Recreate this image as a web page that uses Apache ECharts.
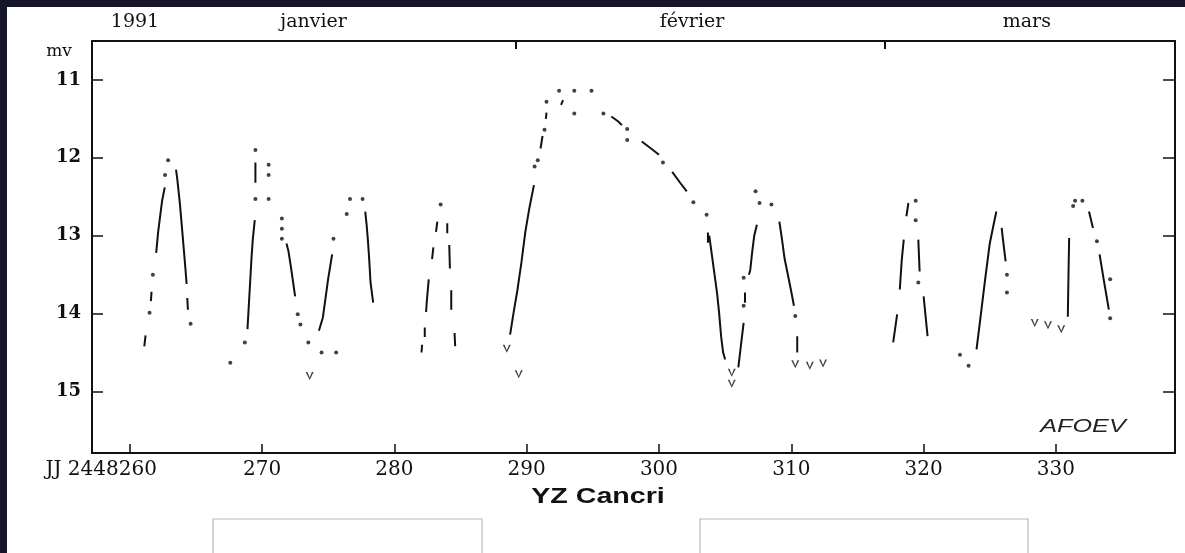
<!DOCTYPE html>
<html><head><meta charset="utf-8">
<script src="https://cdn.jsdelivr.net/npm/echarts@6/dist/echarts.min.js"></script>
<style>html,body{margin:0;padding:0;background:#15152b;}#c{width:1185px;height:553px;}</style>
</head><body><div id="c"></div>
<script>
// ---- data (JJ - 2448000, magnitude mv); null = gap between observation runs ----
const curveJD = [261.1,261.2,null, 261.6,261.65,null, 262.0,262.15,262.3,262.45,262.65,null,
 263.5,263.6,263.8,264.0,264.2,264.3,null, 264.35,264.4,null,
 268.9,269.0,269.1,269.2,269.3,269.45,null, 269.5,269.5,null,
 271.85,272.0,272.2,272.35,272.5,null, 274.3,274.6,274.8,275.0,275.3,null,
 277.8,277.9,278.0,278.1,278.2,278.4,null,
 282.05,282.1,null, 282.3,282.3,null, 282.4,282.45,282.6,null, 282.85,282.95,null, 283.15,283.25,null,
 284.0,284.0,null, 284.15,284.2,null, 284.3,284.3,null, 284.55,284.6,null,
 288.75,289.0,289.3,289.6,289.9,290.2,290.55,null, 291.05,291.2,null, 291.45,291.5,null, 292.6,292.75,null,
 296.4,296.9,297.2,null, 298.7,299.4,300.0,null, 301.0,301.6,302.1,null, 303.7,303.7,null,
 303.8,304.0,304.2,304.4,304.55,304.7,304.85,305.0,null, 306.0,306.2,306.4,null, 306.5,306.5,null,
 306.8,306.9,307.05,307.2,307.4,null, 309.1,309.3,309.5,309.8,310.0,310.2,null, 310.45,310.45,null,
 317.7,318.0,null, 318.2,318.35,318.5,null, 318.7,318.85,null, 319.6,319.7,null, 320.0,320.3,null,
 324.0,324.3,324.65,325.0,325.3,325.5,null, 325.9,326.0,326.2,null,
 330.9,330.95,331.0,null, 332.5,332.8,null, 333.3,333.6,334.0];
const curveMag = [14.42,14.28,null, 13.84,13.72,null, 13.22,12.95,12.75,12.55,12.38,null,
 12.15,12.28,12.6,13.0,13.4,13.62,null, 13.8,13.95,null,
 14.2,13.9,13.6,13.3,13.05,12.8,null, 12.32,12.06,null,
 13.1,13.2,13.42,13.6,13.78,null, 14.22,14.05,13.8,13.55,13.24,null,
 12.69,12.85,13.05,13.3,13.6,13.86,null,
 14.5,14.4,null, 14.3,14.18,null, 13.98,13.85,13.56,null, 13.3,13.15,null, 12.95,12.82,null,
 12.84,12.97,null, 13.12,13.42,null, 13.7,13.95,null, 14.25,14.42,null,
 14.27,14.0,13.7,13.35,12.95,12.65,12.35,null, 11.88,11.72,null, 11.5,11.42,null, 11.32,11.26,null,
 11.47,11.53,11.58,null, 11.79,11.88,11.96,null, 12.18,12.32,12.43,null, 12.96,13.09,null,
 13.0,13.25,13.5,13.75,14.0,14.3,14.5,14.59,null, 14.69,14.4,14.12,null, 13.73,13.86,null,
 13.5,13.44,13.2,13.0,12.86,null, 12.82,13.05,13.3,13.55,13.72,13.9,null, 14.29,14.5,null,
 14.37,14.01,null, 13.69,13.31,13.05,null, 12.75,12.58,null, 13.05,13.46,null, 13.78,14.29,null,
 14.46,14.05,13.56,13.1,12.85,12.69,null, 12.9,13.05,13.33,null,
 14.04,13.5,13.03,null, 12.69,12.9,null, 13.24,13.55,13.95];
const dotJD = [261.5,261.75,262.67,262.9,264.6, 267.6,268.7,269.5,270.5,270.5,269.5,270.5,271.5,271.5,271.5,
 272.7,272.9,273.5,275.4,274.5,275.6, 276.4,276.65,277.6, 283.5,
 290.6,290.84,291.35,291.5,292.45,293.6,294.9,293.6,295.8,297.6,297.6,300.3,302.6,303.6,
 306.4,306.4,307.3,307.6,308.5,310.3, 319.4,319.4,319.6, 322.75,323.4,326.3,326.3,
 331.3,331.45,332.0,333.1,334.1,334.1];
const dotMag = [13.99,13.5,12.22,12.03,14.13, 14.63,14.37,11.9,12.09,12.22,12.53,12.53,12.78,12.91,13.04,
 14.01,14.14,14.37,13.04,14.5,14.5, 12.72,12.53,12.53, 12.6,
 12.11,12.03,11.64,11.28,11.14,11.14,11.14,11.43,11.43,11.63,11.77,12.06,12.57,12.73,
 13.9,13.54,12.43,12.58,12.6,14.03, 12.55,12.8,13.6, 14.53,14.67,13.5,13.73,
 12.62,12.55,12.55,13.07,13.56,14.06];
// "fainter than" estimates (drawn as v)
const limitJD = [273.6,288.5,289.4,305.5,305.5,310.3,311.4,312.4,328.4,329.4,330.4];
const limitMag = [14.8,14.45,14.78,14.76,14.9,14.65,14.67,14.64,14.12,14.15,14.2];
// axes
const xTickValues = [260,270,280,290,300,310,320,330];
const yTickValues = [11,12,13,14,15];
const monthNames = ['1991','janvier','février','mars'];
const monthLabelDays = [260.4,273.9,302.5,327.8];
const monthBoundaryDays = [289.2,317.1];

const zip = (a,b)=>a.map((v,i)=> v===null ? ['-','-'] : [v,b[i]]);

const chart = echarts.init(document.getElementById('c'));
const serif = 'DejaVu Serif';
chart.setOption({
  animation:false,
  backgroundColor:'#15152b',
  graphic:[
    {type:'rect', z:-100, shape:{x:7,y:7,width:1178,height:546}, style:{fill:'#ffffff'}},
    {type:'rect', z:-99, shape:{x:213,y:519,width:269,height:45}, style:{fill:'none',stroke:'#b8b8b8',lineWidth:1.2}},
    {type:'rect', z:-99, shape:{x:700,y:519,width:328,height:45}, style:{fill:'none',stroke:'#b8b8b8',lineWidth:1.2}},
    {type:'text', x:59, y:52, style:{text:'mv', font:'17px "DejaVu Serif"', fill:'#111', align:'center', verticalAlign:'middle'}},
    {type:'text', x:598, y:497, scaleX:1.3, style:{text:'YZ Cancri', font:'bold 22px "Liberation Sans"', fill:'#111', align:'center', verticalAlign:'middle'}},
    {type:'text', x:1083, y:427, scaleX:1.4, style:{text:'AFOEV', font:'italic 18px "Liberation Sans"', fill:'#222', align:'center', verticalAlign:'middle'}}
  ],
  grid:{left:92, right:10, top:41, bottom:100, containLabel:false},
  xAxis:[
    {type:'value', position:'bottom', min:257.15, max:339,
     axisLine:{lineStyle:{color:'#111', width:2}},
     axisTick:{inside:true, length:9, customValues:xTickValues, lineStyle:{color:'#111', width:1.5}},
     splitLine:{show:false},
     axisLabel:{customValues:xTickValues, margin:7, color:'#111', fontFamily:serif, fontSize:20,
       formatter:v=> v===260 ? '{p|JJ 2448}260{q|}' : String(v),
       rich:{p:{fontFamily:serif, fontSize:20, color:'#111'}, q:{width:57, fontSize:20}}}},
    {type:'value', position:'top', min:257.15, max:339,
     axisLine:{lineStyle:{color:'#111', width:2}},
     axisTick:{inside:true, length:8, customValues:monthBoundaryDays, lineStyle:{color:'#111', width:2}},
     splitLine:{show:false},
     axisLabel:{customValues:monthLabelDays, margin:9, color:'#111', fontFamily:serif, fontSize:19,
       formatter:v=>{ const i = monthLabelDays.findIndex(d=>Math.abs(d-v)<0.01); return i>=0 ? monthNames[i] : ''; }}}
  ],
  yAxis:[
    {type:'value', inverse:true, min:10.5, max:15.79, position:'left',
     axisLine:{lineStyle:{color:'#111', width:2}},
     axisTick:{inside:true, length:11, customValues:yTickValues, lineStyle:{color:'#111', width:1.5}},
     splitLine:{show:false},
     axisLabel:{customValues:yTickValues, margin:11, color:'#111', fontFamily:serif, fontWeight:'bold', fontSize:18}},
    {type:'value', inverse:true, min:10.5, max:15.79, position:'right',
     axisLine:{show:true, lineStyle:{color:'#111', width:2}},
     axisTick:{show:true, inside:true, length:12, customValues:yTickValues, lineStyle:{color:'#111', width:1.5}},
     splitLine:{show:false}, axisLabel:{show:false}}
  ],
  series:[
    {type:'line', xAxisIndex:0, yAxisIndex:0, data:zip(curveJD,curveMag), symbol:'none', connectNulls:false,
     lineStyle:{color:'#111', width:2}},
    {type:'scatter', xAxisIndex:0, yAxisIndex:0, data:zip(dotJD,dotMag), symbolSize:4, itemStyle:{color:'#111'}},
    {type:'scatter', xAxisIndex:0, yAxisIndex:0, data:zip(limitJD,limitMag),
     symbol:'path://M0,0L2.2,0L5,7L7.8,0L10,0L5,10Z', symbolSize:[8,8], itemStyle:{color:'#111'}}
  ]
});
</script></body></html>
